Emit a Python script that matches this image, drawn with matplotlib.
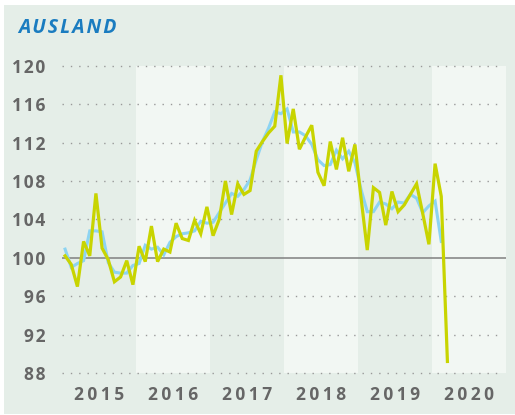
import numpy as np
import matplotlib.pyplot as plt
from matplotlib.patches import Rectangle

# Monatswerte ab Jan 2015
ausland = [100.2, 99.3, 97.0, 101.7, 100.2, 106.7, 101.0, 99.8, 97.5, 98.0, 99.7, 97.2,
           101.2, 99.6, 103.3, 99.6, 100.9, 100.6, 103.6, 102.0, 101.8, 103.9, 102.5, 105.3,
           102.3, 104.0, 108.0, 104.5, 107.7, 106.6, 107.0, 111.1, 112.1, 113.0, 113.7, 119.0,
           111.9, 115.5, 111.3, 112.6, 113.8, 108.9, 107.5, 112.1, 109.2, 112.5, 109.0, 111.8,
           106.2, 100.8, 107.3, 106.8, 103.4, 106.9, 104.8, 105.5, 106.6, 107.7, 104.6, 101.4,
           109.8, 106.4, 89.2]
trend = [100.9, 99.0, 99.4, 99.7, 102.8, 102.8, 102.7, 99.5, 98.5, 98.4, 98.4, 99.2,
         99.4, 101.3, 100.9, 101.1, 100.3, 101.6, 102.2, 102.5, 102.6, 102.8, 103.8, 103.6,
         103.7, 104.7, 105.7, 106.7, 106.4, 107.1, 108.1, 110.2, 112.1, 113.5, 115.2, 115.0,
         115.5, 113.1, 113.1, 112.7, 111.8, 110.2, 109.6, 109.7, 111.2, 110.3, 111.1, 109.9,
         107.1, 104.8, 104.8, 105.8, 105.6, 105.1, 105.8, 105.7, 106.6, 106.2, 104.7, 105.4,
         105.9, 101.7]
years = [2015, 2016, 2017, 2018, 2019, 2020]
yticks = [88, 92, 96, 100, 104, 108, 112, 116, 120]

BG_DARK = "#e5eee8"
BG_LIGHT = "#f2f7f3"
GREY = "#666666"
FONT = ["Open Sans", "DejaVu Sans"]


def spaced(s, sep="\u200a"):
    return sep.join(s)


fig = plt.figure(figsize=(5.15, 4.15), dpi=100, facecolor="white")
fig.patches.append(Rectangle((4 / 515, 1 / 415), 511 / 515, 409 / 415,
                             transform=fig.transFigure, facecolor=BG_DARK,
                             edgecolor="none", zorder=-10))

ax = fig.add_axes([62 / 515, 42 / 415, 444 / 515, 307.3 / 415])
ax.set_facecolor("none")

# Jahresbänder
for i, yr in enumerate(years):
    ax.axvspan(yr, yr + 1, color=BG_DARK if i % 2 == 0 else BG_LIGHT, lw=0, zorder=0)

# Gitterlinien
for v in yticks:
    if v == 100:
        ax.axhline(v, color="#808080", lw=1.1, zorder=1)
    else:
        ax.plot([2015, 2020.96], [v, v], color="#999999", lw=1.0,
                linestyle=(0, (1, 5)), zorder=1, clip_on=False)

x_a = 2015 + (np.arange(len(ausland)) + 0.5) / 12
x_t = 2015 + (np.arange(len(trend)) + 0.5) / 12
ax.plot(x_t, trend, color="#8dd4f2", lw=2.2, zorder=2, solid_joinstyle="miter")
ax.plot(x_a, ausland, color="#c8d400", lw=2.3, zorder=3, solid_joinstyle="miter")

ax.set_xlim(2015, 2021)
ax.set_ylim(88, 120)
ax.set_yticks(yticks)
ax.set_yticklabels([spaced(str(v)) for v in yticks])
ax.set_xticks([y + 0.5 for y in years])
ax.set_xticklabels([spaced(str(y), "\u2009") for y in years])
ax.tick_params(length=0, colors=GREY, labelsize=12.5)
ax.tick_params(axis="y", pad=12)
ax.tick_params(axis="x", pad=9)
for lab in ax.get_xticklabels() + ax.get_yticklabels():
    lab.set_fontweight("bold")
    lab.set_family(FONT)
for s in ax.spines.values():
    s.set_visible(False)

fig.text(18 / 515, 1 - 28 / 415, spaced("AUSLAND"), color="#1a7cc0", fontsize=14,
         fontweight="bold", fontstyle="italic", family=FONT, va="center")

plt.savefig("out.png", dpi=100, facecolor=fig.get_facecolor())
plt.close()
